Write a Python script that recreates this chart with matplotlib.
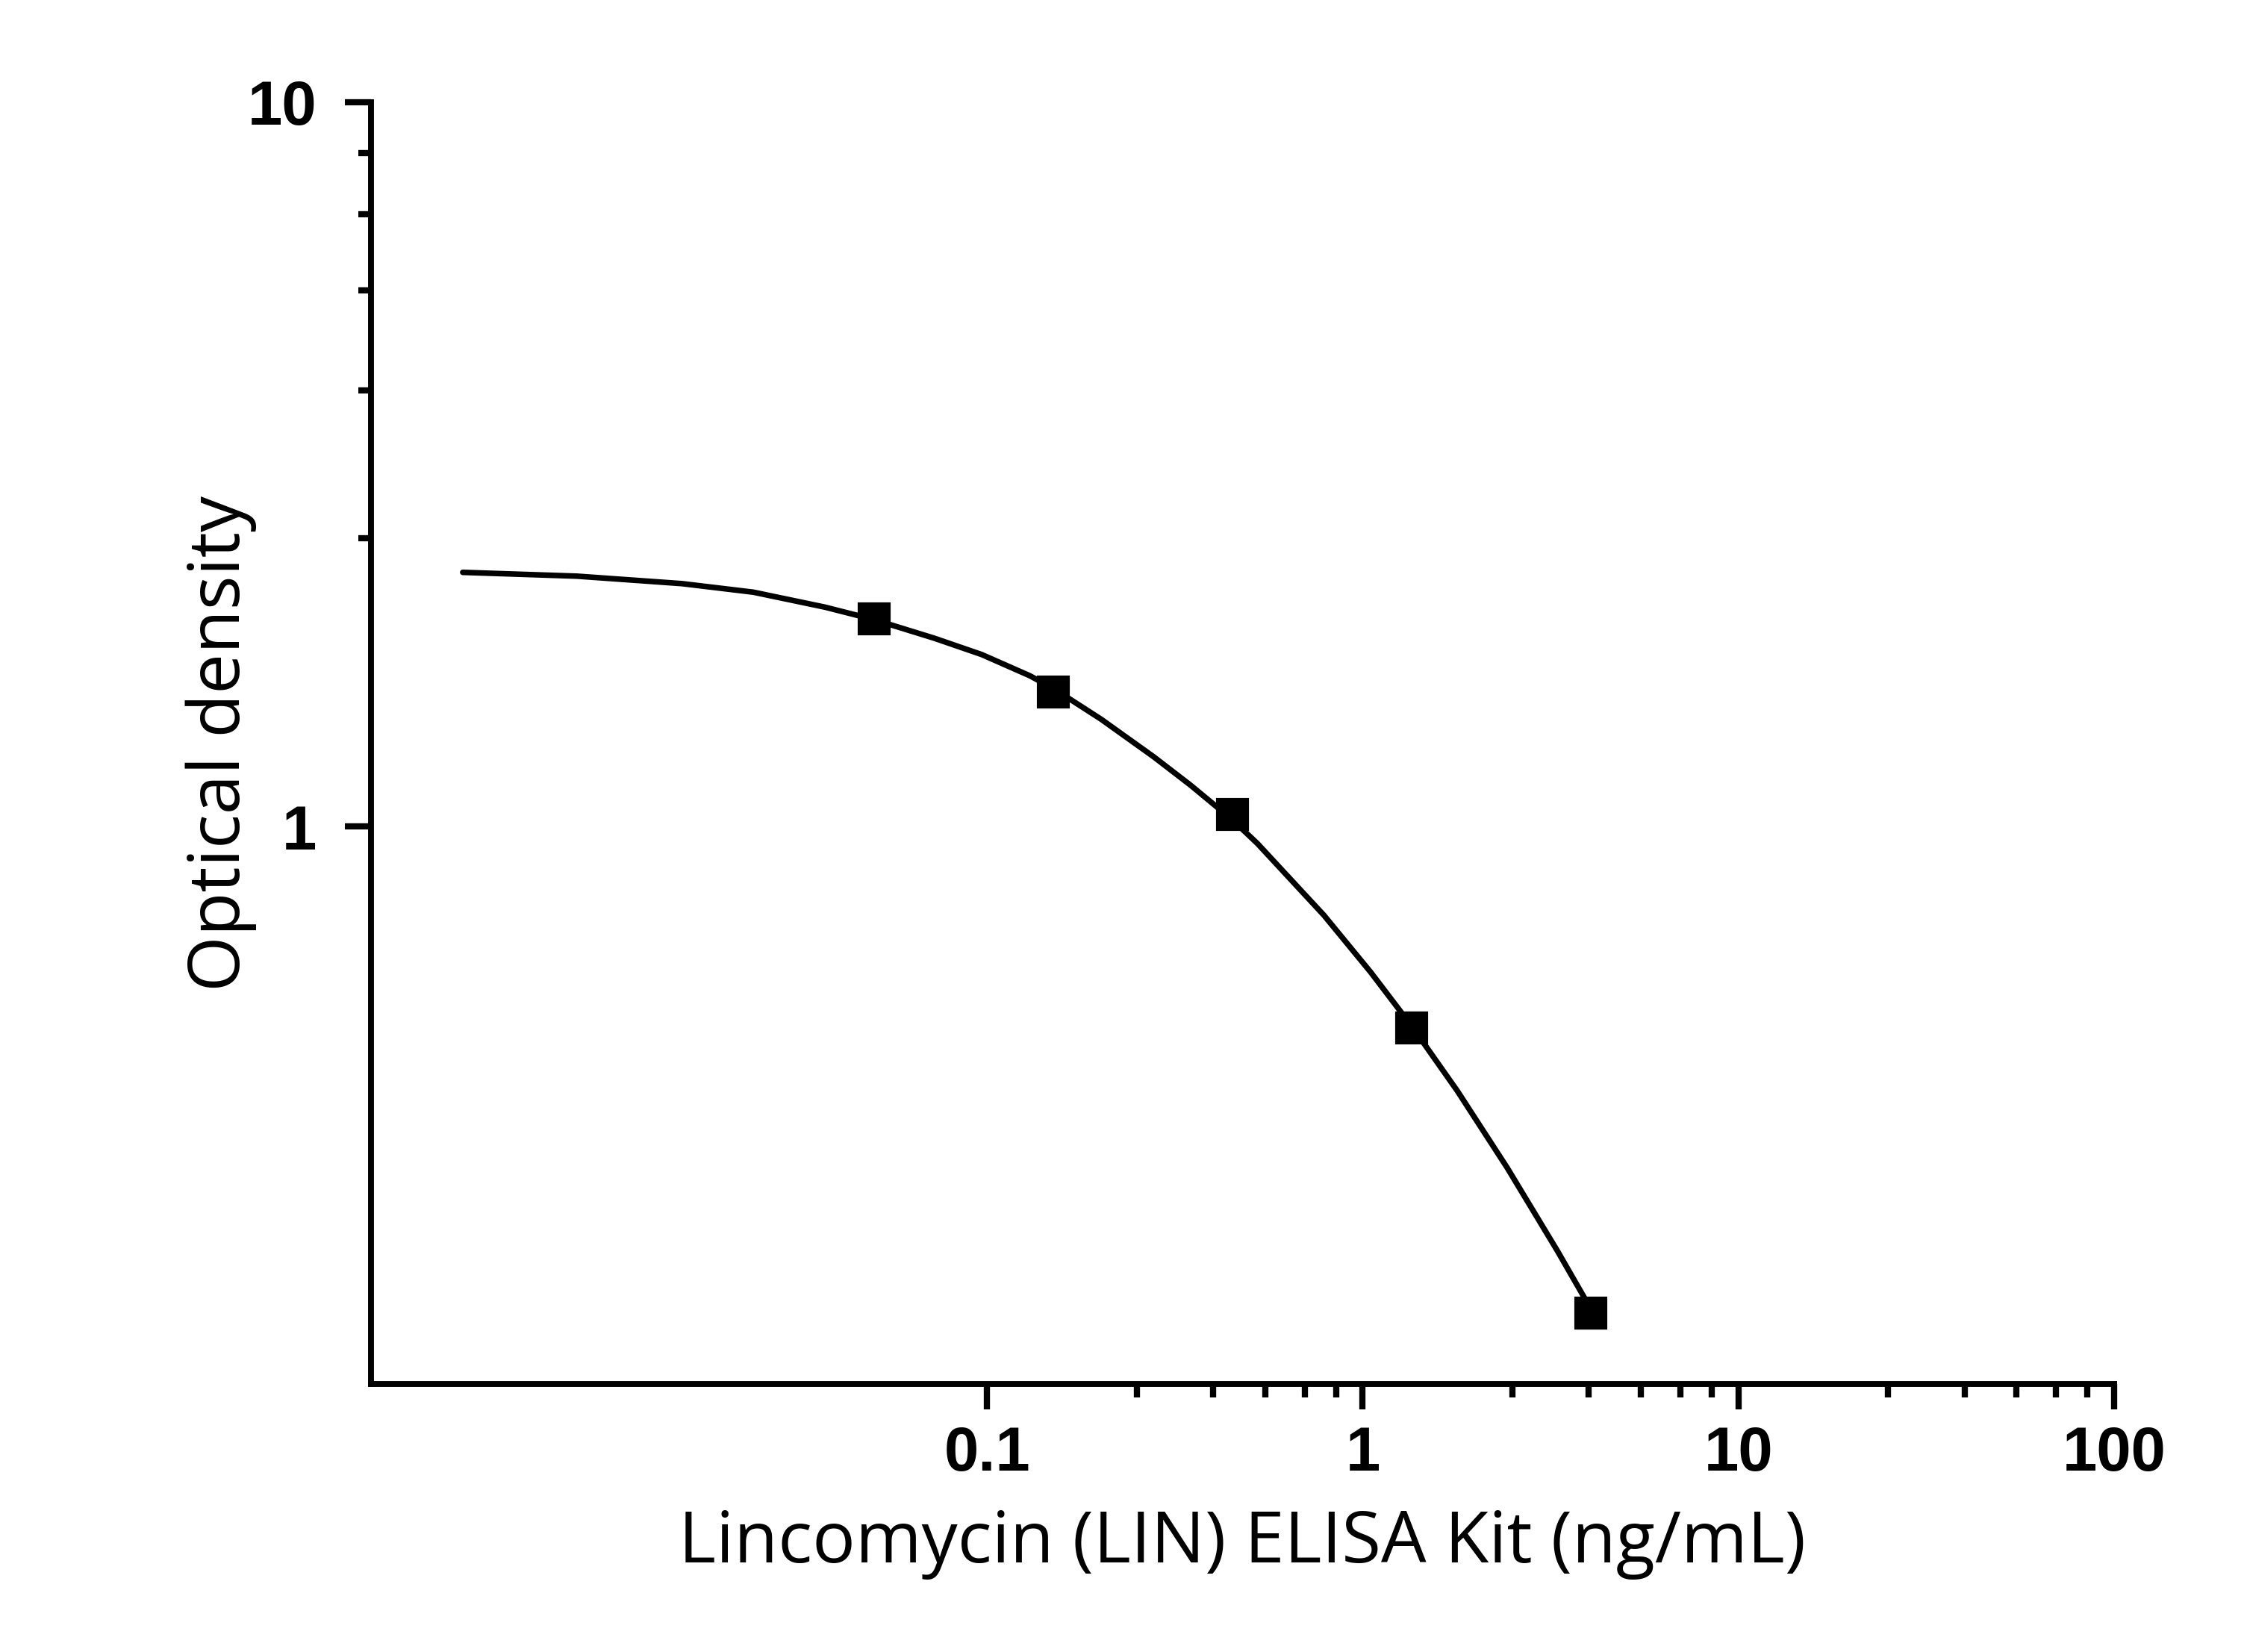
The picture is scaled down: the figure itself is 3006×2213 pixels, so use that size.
import matplotlib
matplotlib.use("Agg")
import matplotlib.pyplot as plt
from matplotlib.ticker import FixedLocator, NullFormatter, FixedFormatter

# Standards (ng/mL) and measured optical density
conc = [0.05, 0.15, 0.45, 1.35, 4.05]
od = [1.935, 1.533, 1.04, 0.527, 0.213]

# Fitted curve
curve_x = [0.00402, 0.0081, 0.01541, 0.02386, 0.03703, 0.05, 0.0724, 0.0968,
           0.1298, 0.15, 0.2012, 0.2775, 0.3481, 0.45, 0.5244, 0.788, 1.05,
           1.35, 1.787, 2.427, 3.299, 4.05]
curve_y = [2.243, 2.216, 2.164, 2.106, 2.008, 1.93, 1.819, 1.727,
           1.615, 1.551, 1.406, 1.248, 1.140, 1.021, 0.947, 0.754, 0.629,
           0.530, 0.431, 0.3374, 0.2592, 0.2155]

x_major = [0.1, 1, 10, 100]
x_labels = ["0.1", "1", "10", "100"]
x_minor = [0.25, 0.4, 0.55, 0.7, 0.85, 2.5, 4, 5.5, 7, 8.5, 25, 40, 55, 70, 85]
y_major = [1, 10]
y_labels = ["1", "10"]
y_minor = [2.5, 4, 5.5, 7, 8.5]

plt.rcParams["font.family"] = ["Liberation Sans", "DejaVu Sans"]
plt.rcParams["font.weight"] = "bold"
plt.rcParams["font.size"] = 20

fig = plt.figure(figsize=(10.02, 7.3767), dpi=300)
ax = fig.add_axes([0.1653, 0.1622, 0.9421 - 0.1653, 0.9381 - 0.1622])

ax.plot(curve_x, curve_y, color="black", lw=1.8, solid_capstyle="round",
        solid_joinstyle="round")
ax.plot(conc, od, linestyle="none", marker="s", markersize=9.4, color="black")

ax.set_xscale("log")
ax.set_yscale("log")
ax.set_xlim(0.00229, 100)
ax.set_ylim(0.1698, 10)

ax.xaxis.set_major_locator(FixedLocator(x_major))
ax.xaxis.set_major_formatter(FixedFormatter(x_labels))
ax.xaxis.set_minor_locator(FixedLocator(x_minor))
ax.xaxis.set_minor_formatter(NullFormatter())
ax.yaxis.set_major_locator(FixedLocator(y_major))
ax.yaxis.set_major_formatter(FixedFormatter(y_labels))
ax.yaxis.set_minor_locator(FixedLocator(y_minor))
ax.yaxis.set_minor_formatter(NullFormatter())

for side in ["top", "right"]:
    ax.spines[side].set_visible(False)
for side in ["left", "bottom"]:
    ax.spines[side].set_linewidth(1.9)

ax.tick_params(axis="x", which="major", length=8.2, width=2, pad=5, labelsize=20)
ax.tick_params(axis="y", which="major", length=8.4, width=2, pad=9, labelsize=20)
ax.tick_params(which="minor", length=4.2, width=2)

ax.set_xlabel("Lincomycin (LIN) ELISA Kit (ng/mL)", fontfamily="Open Sans",
              fontweight="normal", fontsize=23, labelpad=8)
ax.set_ylabel("Optical density", fontfamily="Open Sans", fontweight="normal",
              fontsize=23, labelpad=-3)

fig.savefig("out.png", dpi=300, facecolor="white")
